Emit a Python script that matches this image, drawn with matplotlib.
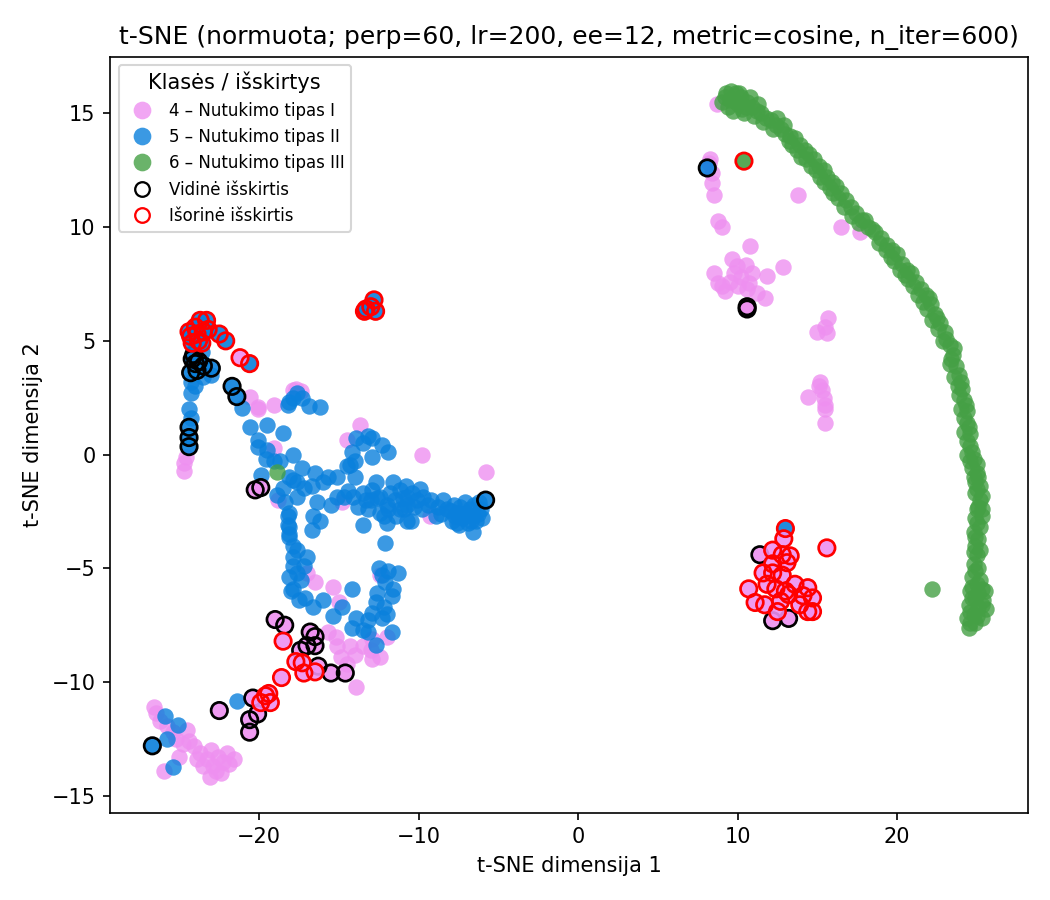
import matplotlib
matplotlib.use("Agg")
import matplotlib.pyplot as plt
from matplotlib.lines import Line2D
import numpy as np

# ---- data (t-SNE coordinates) ----
class_labels = ["4 – Nutukimo tipas I", "5 – Nutukimo tipas II", "6 – Nutukimo tipas III"]
class_colors = ["#EE90F0", "#0A80DC", "#45A045"]

pink_pts = [
    (-24.6, -0.1), (-24.7, -0.35), (-24.7, -0.7), (-13.7, 1.3), (-14.5, 0.66), (-9.8, 0.0), (-5.8, -0.75),
    (-18.8, -2.0), (-14.8, -2.1), (-9.3, -2.7), (-19.1, 0.3),
    (-20.6, 2.55), (-20.1, 2.1), (-19.1, 2.2), (-17.9, 2.85), (-17.4, 2.8), (-20.1, 2.0), (-17.7, 2.9),
    (-17.0, -5.2), (-16.5, -5.6), (-15.4, -5.8), (-15.0, -6.5), (-15.7, -7.8), (-12.9, -8.1), (-13.5, -8.4),
    (-14.0, -8.8), (-12.9, -9.0), (-12.4, -8.9), (-14.9, -8.9), (-15.1, -8.4), (-15.2, -8.0), (-13.9, -10.2),
    (-14.3, -8.4), (-13.0, -8.6), (-14.5, -9.2), (-12.0, -8.0), (-12.4, -5.3),
    (-26.6, -11.1), (-26.5, -11.35), (-26.2, -11.7), (-25.8, -11.95), (-25.4, -12.2), (-24.5, -12.1),
    (-24.8, -12.7), (-24.1, -12.8), (-23.7, -13.1), (-23.3, -13.4), (-22.9, -13.7), (-22.4, -14.0),
    (-22.6, -13.3), (-22.0, -13.1), (-21.6, -13.4), (-22.3, -13.5), (-23.1, -14.15), (-26.0, -13.9),
    (-25.0, -13.3), (-23.5, -13.7), (-25.2, -12.5), (-24.4, -12.6), (-23.9, -13.4), (-22.7, -13.9),
    (-21.9, -13.6), (-23.0, -13.0),
    (8.7, 15.4), (8.3, 13.0), (8.4, 12.4), (8.4, 11.95), (8.5, 11.4), (8.2, 12.8), (8.8, 10.25), (9.0, 10.0),
    (10.8, 9.15), (13.8, 11.4), (16.5, 10.0), (17.7, 9.8), (9.65, 8.6), (9.95, 8.3), (10.5, 8.35), (8.5, 8.0),
    (8.8, 7.55), (9.2, 7.2), (9.5, 7.6), (10.2, 7.8), (10.7, 7.55), (10.9, 8.0), (11.85, 7.85), (12.85, 8.25),
    (11.2, 7.1), (11.7, 6.9), (10.6, 7.3), (9.8, 8.0), (10.0, 7.4), (9.0, 7.4),
    (15.7, 6.0), (15.5, 5.6), (15.0, 5.4), (15.6, 5.35), (15.2, 3.2), (15.3, 2.85), (14.4, 2.55),
    (15.4, 2.5), (15.5, 2.2), (15.5, 2.0), (15.5, 1.4), (15.1, 3.0),
]

blue_pts = [
    (-24.3, 3.2), (-24.3, 2.7), (-24.4, 2.0), (-24.3, 1.6), (-23.5, 3.4), (-23.0, 3.5), (-24.0, 3.0),
    (-24.0, 4.6), (-23.6, 4.5),
    (-21.1, 2.07), (-17.6, 2.7), (-18.1, 2.3), (-16.9, 2.15), (-16.2, 2.1), (-17.9, 2.5), (-17.3, 2.5), (-18.2, 2.2),
    (-20.6, 1.2), (-19.5, 1.3), (-18.5, 0.95), (-20.1, 0.66), (-20.1, 0.35), (-19.5, 0.2), (-17.9, 0.0),
    (-19.6, -0.2), (-19.1, -0.3), (-18.7, -0.3), (-17.3, -0.57), (-16.5, -0.8), (-19.9, -0.9), (-18.1, -0.97),
    (-17.6, -1.2), (-17.9, -1.1), (-17.2, -1.45), (-17.6, -1.85), (-18.5, -1.45), (-18.9, -1.76),
    (-16.7, -1.4), (-16.0, -1.2), (-15.1, -1.0), (-15.7, -0.97), (-14.5, -0.5), (-14.2, 0.13), (-13.9, 0.75),
    (-13.2, 0.8), (-12.9, 0.75), (-12.3, 0.44), (-11.9, 0.1), (-12.9, -0.1), (-13.5, 0.5), (-14.0, -0.3),
    (-14.3, -0.44), (-14.0, -0.97),
    (-14.7, -1.85), (-14.1, -1.85), (-13.5, -1.67), (-12.9, -1.54), (-12.4, -1.85), (-11.8, -1.67),
    (-11.2, -1.54), (-10.7, -1.85), (-10.1, -1.98), (-9.7, -1.85), (-8.8, -2.3), (-8.2, -2.4), (-7.6, -2.55),
    (-7.0, -2.55), (-6.6, -2.7), (-6.1, -2.4), (-6.6, -3.4), (-13.5, -3.1), (-12.0, -3.0), (-10.5, -2.9),
    (-13.2, -2.4), (-12.4, -2.55), (-11.2, -2.4), (-15.1, -1.85), (-16.4, -2.1), (-15.5, -2.2),
    (-16.6, -2.7), (-16.2, -2.9), (-16.7, -3.3), (-18.4, -2.1), (-18.2, -2.7), (-18.1, -3.2), (-18.1, -3.6),
    (-13.0, -2.0), (-12.0, -2.2), (-11.5, -2.0), (-10.9, -2.4), (-10.3, -2.3), (-9.4, -2.2), (-13.8, -2.3),
    (-12.7, -1.2), (-11.6, -1.2), (-10.8, -1.4), (-9.9, -1.5), (-9.2, -2.0), (-8.5, -2.0), (-7.8, -2.2),
    (-7.3, -2.8), (-7.4, -2.3), (-6.9, -3.0), (-6.4, -2.9), (-6.2, -2.1), (-7.9, -2.9), (-7.1, -2.1),
    (-8.0, -2.5), (-6.8, -2.4), (-6.5, -2.2), (-7.6, -3.0), (-8.6, -2.6),
    (-12.6, -1.9), (-11.9, -2.4), (-11.0, -1.9), (-10.4, -1.7), (-9.8, -2.4), (-13.3, -2.0), (-14.4, -1.6),
    (-8.9, -2.7), (-7.2, -2.6), (-6.7, -2.9), (-6.3, -2.6), (-7.7, -2.7), (-6.0, -2.8), (-7.5, -3.1),
    (-12.2, -2.7), (-11.4, -2.7), (-10.7, -2.2),
    (-18.1, -2.55), (-18.2, -3.1), (-18.1, -3.5), (-17.9, -4.0), (-17.6, -4.2), (-17.9, -4.5), (-17.0, -4.5),
    (-17.9, -4.9), (-17.2, -4.9), (-18.1, -5.4), (-17.4, -5.5), (-17.9, -5.9), (-17.1, -6.3), (-16.6, -6.7),
    (-16.0, -6.4), (-17.6, -5.2), (-18.0, -6.0), (-17.5, -6.4),
    (-14.2, -5.9), (-14.8, -6.7), (-15.4, -7.1), (-12.1, -3.9), (-10.7, -2.9),
    (-12.5, -5.0), (-11.9, -5.1), (-11.3, -5.2), (-12.1, -5.6), (-11.6, -5.9), (-11.7, -6.2), (-12.6, -6.1),
    (-12.7, -6.5), (-12.2, -6.7), (-12.9, -6.95), (-12.3, -7.2), (-13.2, -7.25), (-13.9, -7.2), (-14.2, -7.6),
    (-13.5, -7.7), (-13.2, -7.8), (-12.7, -8.35), (-11.7, -7.8), (-12.3, -5.3), (-12.0, -7.0),
    (-21.4, -10.85), (-25.9, -11.5), (-25.1, -11.9), (-25.8, -12.5), (-25.4, -13.75),
]

green_pts = [
    (9.0, 15.5), (9.3, 15.9), (9.6, 16.0), (9.9, 15.9), (10.2, 15.7), (9.4, 15.3), (9.7, 15.1), (10.0, 15.4),
    (10.3, 15.2), (10.6, 15.5), (10.9, 15.3), (11.2, 15.1), (11.5, 15.0), (11.0, 14.9), (11.8, 14.8),
    (9.2, 15.7), (9.8, 15.6), (10.4, 15.0), (10.8, 15.7),
    (12.1, 14.7), (12.4, 14.5), (12.2, 14.3), (12.7, 14.3), (13.0, 14.1), (13.3, 14.0), (13.6, 13.9),
    (13.4, 13.6), (13.9, 13.6), (14.2, 13.4), (14.0, 13.1), (14.5, 13.2), (14.8, 13.0), (14.6, 12.7),
    (15.1, 12.7), (15.4, 12.5), (15.2, 12.2), (15.6, 12.2), (15.9, 12.0), (16.2, 11.8), (16.0, 11.5),
    (16.5, 11.5), (16.8, 11.2), (17.1, 10.9), (17.4, 10.6), (17.8, 10.3), (18.2, 10.0), (18.6, 9.8),
    (19.0, 9.5), (19.4, 9.2), (19.7, 9.0), (20.0, 8.8), (19.8, 8.5), (20.3, 8.4), (20.6, 8.1), (20.9, 8.0),
    (20.7, 7.7), (21.2, 7.6), (21.5, 7.3), (21.8, 7.0), (21.6, 6.7), (22.1, 6.6), (22.4, 6.2), (22.2, 5.9),
    (22.7, 5.8), (23.0, 5.4), (22.9, 5.0), (23.3, 4.8), (23.5, 4.4), (23.3, 4.0), (23.7, 3.9), (23.9, 3.5),
    (23.8, 3.0), (24.1, 2.9), (24.2, 2.4), (24.0, 2.0), (24.4, 1.9), (24.4, 1.4), (24.2, 1.0), (24.6, 0.9),
    (24.6, 0.4), (24.4, 0.0), (24.8, -0.2), (24.7, -0.6), (25.0, -0.8), (24.9, -1.2), (25.2, -1.4),
    (24.9, -1.7), (25.2, -2.0), (25.0, -2.4), (25.3, -2.7), (25.0, -3.0), (24.8, -3.4), (25.1, -3.7),
    (24.9, -4.0), (25.0, -4.4), (24.8, -4.8), (25.1, -5.0), (24.7, -5.4), (25.0, -5.7), (25.3, -5.9),
    (24.6, -6.0), (24.9, -6.3), (25.4, -6.4), (24.5, -6.6), (25.1, -6.7), (24.8, -7.0), (25.3, -7.2),
    (24.4, -7.2), (24.9, -7.4), (24.5, -7.6), (25.5, -6.0), (25.6, -6.8),
    (9.5, 15.6), (10.1, 15.9), (10.5, 15.3), (11.3, 15.4), (11.6, 14.6), (12.5, 14.8), (12.9, 14.5),
    (13.2, 13.8), (13.7, 13.4), (14.3, 13.0), (14.9, 12.5), (15.4, 12.0), (15.8, 11.7), (16.3, 11.3),
    (16.7, 10.9), (17.2, 10.5), (17.6, 10.2), (18.0, 10.3), (18.4, 9.9), (18.9, 9.3), (19.3, 9.0),
    (19.6, 8.7), (20.2, 8.1), (20.5, 7.9), (21.0, 7.4), (21.3, 7.0), (21.9, 6.4), (22.0, 6.9), (22.5, 6.0),
    (22.6, 5.5), (23.1, 5.1), (23.4, 4.2), (23.6, 4.7), (23.6, 3.4), (24.0, 3.2), (23.9, 2.6), (24.3, 2.2),
    (24.2, 1.6), (24.5, 1.2), (24.4, 0.6), (24.7, 0.1), (24.6, -0.3), (25.0, -0.4), (24.8, -1.0),
    (25.1, -1.0), (25.0, -1.5), (25.3, -1.8), (25.1, -2.3), (25.3, -2.4), (24.9, -2.8), (25.2, -3.2),
    (24.9, -3.6), (25.2, -4.2), (24.8, -4.3), (24.9, -5.1), (25.2, -5.5), (24.7, -5.8), (25.1, -6.1),
    (24.7, -6.3), (25.3, -6.6), (24.6, -6.9), (25.0, -7.1), (24.6, -7.4),
    (22.2, -5.9), (-18.9, -0.75),
]

# inner outliers (black ring) and outer outliers (red ring): (x, y, class index)
inner_outliers = [
    (-24.2, 4.2, 1), (-24.0, 4.0, 1), (-23.8, 4.1, 1), (-23.5, 3.9, 1), (-23.0, 3.8, 1), (-24.3, 3.6, 1),
    (-23.9, 3.7, 1), (-24.1, 4.4, 1), (-21.7, 3.0, 1), (-21.4, 2.55, 1), (-24.4, 1.2, 1), (-24.4, 0.75, 1),
    (-24.4, 0.35, 1), (-5.8, -2.0, 1), (-26.7, -12.8, 1), (8.1, 12.6, 1),
    (-20.25, -1.55, 0), (-19.9, -1.45, 0), (-19.0, -7.25, 0), (-18.4, -7.5, 0), (-16.8, -7.8, 0),
    (-16.5, -8.0, 0), (-17.0, -8.4, 0), (-16.5, -8.4, 0), (-16.3, -9.3, 0), (-15.5, -9.6, 0),
    (-14.6, -9.6, 0), (-17.4, -8.6, 0), (-20.4, -10.7, 0), (-20.1, -11.4, 0), (-20.6, -11.65, 0),
    (-20.6, -12.2, 0), (-22.5, -11.25, 0), (10.6, 6.5, 0), (10.6, 6.4, 0), (11.4, -4.4, 0),
    (12.2, -7.3, 0), (13.2, -7.2, 0),
]
outer_outliers = [
    (-24.3, 5.2, 1), (-24.0, 5.6, 1), (-23.7, 5.9, 1), (-23.3, 5.9, 1), (-23.8, 5.0, 1), (-24.2, 4.9, 1),
    (-23.5, 5.4, 1), (-23.6, 4.9, 1), (-24.4, 5.4, 1), (-23.9, 5.3, 1), (-23.2, 5.5, 1), (-22.5, 5.3, 1),
    (-22.1, 5.0, 1), (-20.6, 4.0, 1), (-13.4, 6.3, 1), (-13.0, 6.5, 1), (-12.8, 6.8, 1), (-12.7, 6.3, 1),
    (-13.3, 6.4, 1), (13.0, -3.25, 1),
    (-21.2, 4.26, 0), (-18.5, -8.2, 0), (-17.7, -9.1, 0), (-17.3, -9.15, 0), (-17.2, -9.6, 0),
    (-16.5, -9.55, 0), (-18.6, -9.8, 0), (-19.6, -10.6, 0), (-19.9, -10.9, 0), (-19.3, -10.9, 0),
    (-19.4, -10.5, 0),
    (12.9, -3.7, 0), (15.6, -4.1, 0), (12.2, -4.2, 0), (12.8, -4.4, 0), (13.3, -4.45, 0), (13.1, -4.75, 0),
    (12.2, -4.8, 0), (11.6, -5.2, 0), (12.2, -5.2, 0), (12.8, -5.3, 0), (11.85, -5.7, 0), (10.7, -5.9, 0),
    (11.1, -6.5, 0), (11.7, -6.6, 0), (12.7, -6.45, 0), (13.2, -6.15, 0), (13.6, -5.7, 0), (14.4, -5.85, 0),
    (13.9, -6.6, 0), (14.4, -6.9, 0), (14.7, -6.9, 0), (14.7, -6.3, 0), (12.5, -6.9, 0), (13.0, -6.0, 0),
    (12.4, -5.9, 0), (14.1, -6.2, 0),
    (10.4, 12.9, 2),
]

title = "t-SNE (normuota; perp=60, lr=200, ee=12, metric=cosine, n_iter=600)"
xlabel = "t-SNE dimensija 1"
ylabel = "t-SNE dimensija 2"
legend_title = "Klasės / išskirtys"
outlier_labels = ["Vidinė išskirtis", "Išorinė išskirtis"]

# ---- plot ----
fig, ax = plt.subplots(figsize=(7, 6), dpi=150)
fig.subplots_adjust(left=0.105, right=0.979, top=0.937, bottom=0.097)

S = 62
ALPHA = 0.8
for pts, col in zip([pink_pts, blue_pts, green_pts], class_colors):
    a = np.array(pts)
    ax.scatter(a[:, 0], a[:, 1], s=S, c=col, alpha=ALPHA, linewidths=0)

for outl, ec in [(inner_outliers, "black"), (outer_outliers, "red")]:
    a = np.array(outl)
    cols = [class_colors[int(k)] for k in a[:, 2]]
    ax.scatter(a[:, 0], a[:, 1], s=S, c=cols, alpha=0.9, linewidths=0)
    ax.scatter(a[:, 0], a[:, 1], s=S, facecolors="none", edgecolors=ec, linewidths=1.3)

ax.set_xlim(-29.34, 28.21)
ax.set_ylim(-15.74, 17.49)
ax.set_title(title, fontsize=12)
ax.set_xlabel(xlabel, fontsize=10)
ax.set_ylabel(ylabel, fontsize=10)
ax.set_xticks([-20, -10, 0, 10, 20])
ax.set_yticks([-15, -10, -5, 0, 5, 10, 15])

handles = [Line2D([], [], marker="o", linestyle="none", markersize=8.5, markerfacecolor=c,
                  markeredgewidth=0, alpha=ALPHA) for c in class_colors]
handles += [Line2D([], [], marker="o", linestyle="none", markersize=7, markerfacecolor="none",
                   markeredgecolor=ec, markeredgewidth=1.1) for ec in ["black", "red"]]
ax.legend(handles, class_labels + outlier_labels, title=legend_title, loc="upper left",
          fontsize=8, title_fontsize=10, labelspacing=0.5, handletextpad=0.6)

fig.savefig("out.png", dpi=150)
